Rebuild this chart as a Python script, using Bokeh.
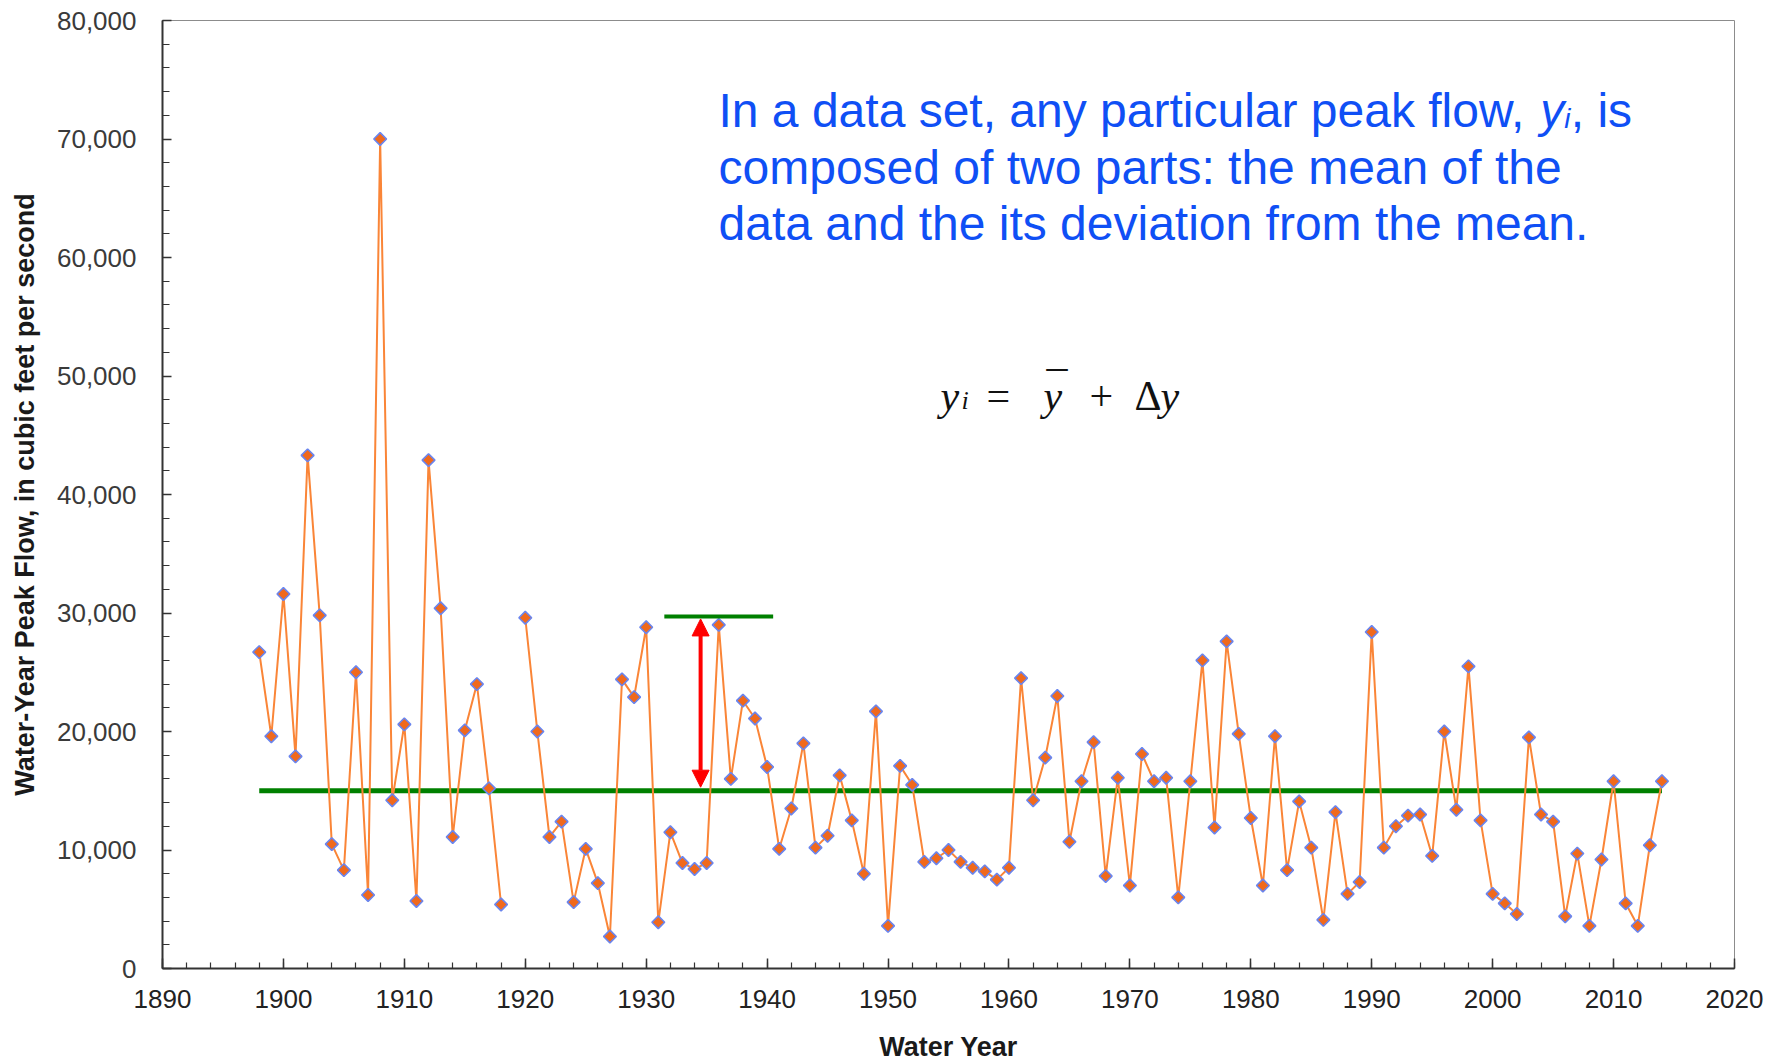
from bokeh.plotting import figure
from bokeh.models import (Range1d, SingleIntervalTicker, NumeralTickFormatter, Label,
                          Arrow, NormalHead)
from bokeh.embed import file_html
from bokeh.resources import INLINE

nan = float("nan")

# ---- data ----
years = list(range(1898, 2015))
peak_flow = [
    26700, 19600, 31600, 17900, 43300, 29800, 10500, 8300, 25000, 6200,   # 1898-1907
    70000, 14200, 20600, 5700, 42900, 30400, 11100, 20100, 24000, 15200,  # 1908-1917
    5400, nan, 29600, 20000, 11100, 12400, 5600, 10100, 7200, 2700,       # 1918-1927
    24400, 22900, 28800, 3900, 11500, 8900, 8400, 8900, 29000, 16000,     # 1928-1937
    22600, 21100, 17000, 10100, 13500, 19000, 10200, 11200, 16300, 12500, # 1938-1947
    8000, 21700, 3600, 17100, 15500, 9000, 9300, 10000, 9000, 8500,       # 1948-1957
    8200, 7500, 8500, 24500, 14200, 17800, 23000, 10700, 15800, 19100,    # 1958-1967
    7800, 16100, 7000, 18100, 15800, 16100, 6000, 15800, 26000, 11900,    # 1968-1977
    27600, 19800, 12700, 7000, 19600, 8300, 14100, 10200, 4100, 13200,    # 1978-1987
    6300, 7300, 28400, 10200, 12000, 12900, 13000, 9500, 20000, 13400,    # 1988-1997
    25500, 12500, 6300, 5500, 4600, 19500, 13000, 12400, 4400, 9700,     # 1998-2007
    3600, 9200, 15800, 5500, 3600, 10400, 15800,                          # 2008-2014
]
mean_flow = 15000
mean_years = [years[0], years[-1]]
mean_values = [mean_flow, mean_flow]

deviation_level = 29700          # short green line marking y_i
deviation_years = [1931.5, 1940.5]
deviation_values = [deviation_level, deviation_level]
arrow_year = 1934.5
arrow_bottom = 15300
arrow_top = 29500

x_start, x_end = 1890, 2020
y_start, y_end = 0, 80000

# ---- layout ----
W, H = 1775, 1064
FL, FT = 162, 20
frame_w, frame_h = 1572, 950
FR = W - FL - frame_w
FB = H - FT - frame_h

p = figure(width=W, height=H, output_backend="svg", toolbar_location=None,
           x_range=Range1d(x_start, x_end), y_range=Range1d(y_start, y_end),
           min_border_left=FL, min_border_right=FR, min_border_top=FT,
           min_border_bottom=FB, background_fill_color="white",
           border_fill_color="white")

p.xgrid.visible = False
p.ygrid.visible = False
p.outline_line_color = "#8c8c8c"
p.outline_line_width = 1

p.xaxis.ticker = SingleIntervalTicker(interval=10, num_minor_ticks=5)
p.yaxis.ticker = SingleIntervalTicker(interval=10000, num_minor_ticks=5)
p.yaxis.formatter = NumeralTickFormatter(format="0,0")

for ax in (p.xaxis[0], p.yaxis[0]):
    ax.axis_line_color = "#333333"
    ax.axis_line_width = 2
    ax.major_tick_line_color = "#333333"
    ax.minor_tick_line_color = "#333333"
    ax.major_tick_line_width = 1.5
    ax.minor_tick_line_width = 1.2
    ax.major_tick_out = 0
    ax.minor_tick_out = 0
    ax.major_label_text_font = "Liberation Sans"
    ax.major_label_text_font_size = "26px"
    ax.axis_label_text_font = "Liberation Sans"
    ax.axis_label_text_font_style = "bold"
    ax.axis_label_text_color = "#1a1a1a"

p.xaxis.major_tick_in = 10
p.xaxis.minor_tick_in = 6
p.yaxis.major_tick_in = 9
p.yaxis.minor_tick_in = 7
p.xaxis.major_label_text_color = "#222222"
p.yaxis.major_label_text_color = "#3a3a3a"
p.xaxis.major_label_standoff = 21
p.yaxis.major_label_standoff = 26

p.xaxis.axis_label = "Water Year"
p.xaxis.axis_label_text_font_size = "27px"
p.xaxis.axis_label_standoff = 21
p.yaxis.axis_label = "Water-Year Peak Flow, in cubic feet per second"
p.yaxis.axis_label_text_font_size = "27px"
p.yaxis.axis_label_standoff = 14

# ---- series ----
p.line(mean_years, mean_values, line_color="#008000", line_width=5)
p.line(years, peak_flow, line_color="#fa8537", line_width=2)
p.scatter(years, peak_flow, marker="square", angle=0.785398, size=9,
          fill_color="#f0691c", line_color="#6a85ee", line_width=1.6)

p.line(deviation_years, deviation_values, line_color="#008000", line_width=4)
p.add_layout(Arrow(x_start=arrow_year, y_start=arrow_bottom, x_end=arrow_year, y_end=arrow_top,
                   line_color="#ff0000", line_width=4,
                   start=NormalHead(size=17, fill_color="#ff0000", line_color="#ff0000"),
                   end=NormalHead(size=17, fill_color="#ff0000", line_color="#ff0000")))


# helpers: canvas pixel -> data coordinates (for annotation placement)
def dx(px):
    return x_start + (px - FL) / frame_w * (x_end - x_start)


def dy(py):
    return y_end - (py - FT) / frame_h * (y_end - y_start)


blue = "#0f4ff5"
fs = 48
base_x = 718
line1 = "In a data set, any particular peak flow, "
texts = [
    (line1, base_x, 110, "normal", fs),
    ("y", base_x + 17.12 * fs, 110, "italic", fs),
    ("i", base_x + 17.12 * fs + 0.5 * fs, 118, "italic", 28),
    (", is", base_x + 17.12 * fs + 0.5 * fs + 6.5, 110, "normal", fs),
    ("composed of two parts: the mean of the", base_x, 167, "normal", fs),
    ("data and the its deviation from the mean.", base_x, 223, "normal", fs),
]
for t, px, py, style, size in texts:
    p.add_layout(Label(x=dx(px), y=dy(py), text=t, text_color=blue,
                       text_font="Liberation Sans", text_font_style=style,
                       text_font_size=f"{size}px", text_baseline="alphabetic",
                       text_align="left"))

formula = [
    ("y", 940, 396, "italic", 42),
    ("i", 961, 401, "italic", 26),
    ("=", 986, 396, "normal", 42),
    ("y", 1043, 396, "italic", 42),
    ("_", 1046, 352, "normal", 42),
    ("+", 1089, 396, "normal", 42),
    ("\u0394", 1134, 396, "normal", 42),
    ("y", 1160, 396, "italic", 42),
]
for t, px, py, style, size in formula:
    p.add_layout(Label(x=dx(px), y=dy(py), text=t, text_color="#111111",
                       text_font="Liberation Serif", text_font_style=style,
                       text_font_size=f"{size}px", text_baseline="alphabetic",
                       text_align="left"))

open("out.html", "w").write(file_html(p, INLINE))
